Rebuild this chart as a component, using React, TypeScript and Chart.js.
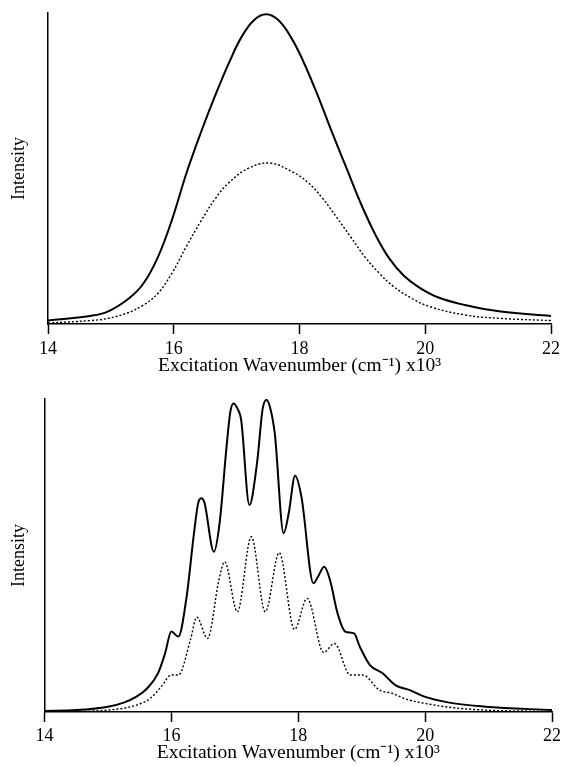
import React, { useEffect, useRef } from 'react';
import { Chart, registerables } from 'chart.js';

Chart.register(...registerables);

// ---- Data (x in 10^3 cm^-1, intensity in arbitrary units, 0-100) ----
const X_TICKS = [14, 16, 18, 20, 22];
const X_TITLE = 'Excitation Wavenumber (cm\u207B\u00B9) x10\u00B3';
const Y_TITLE = 'Intensity';

// Top panel, solid curve
const topSolidX = [14.0, 14.67, 14.95, 15.29, 15.52, 15.75, 15.97, 16.2, 16.43, 16.66, 16.89, 17.07, 17.27, 17.47, 17.67, 17.87, 18.05, 18.28, 18.51, 18.74, 18.97, 19.2, 19.43, 19.66, 19.9, 20.2, 20.63, 21.2, 22.0];
const topSolidY = [1.1, 2.6, 4.0, 8.3, 13.1, 21.6, 33.4, 48.4, 61.5, 73.5, 84.5, 92.0, 97.6, 99.6, 97.6, 92.0, 84.9, 74.0, 62.0, 50.5, 39.0, 29.0, 21.0, 15.5, 11.8, 8.6, 6.1, 4.0, 2.6];

// Top panel, dotted curve
const topDotX = [14.0, 14.67, 14.95, 15.24, 15.52, 15.75, 15.97, 16.2, 16.43, 16.66, 16.88, 17.2, 17.54, 17.88, 18.13, 18.36, 18.59, 18.81, 19.04, 19.27, 19.5, 19.78, 20.07, 20.63, 21.2, 22.0];
const topDotY = [0.3, 1.1, 1.8, 3.4, 6.1, 9.9, 16.3, 24.9, 33.0, 40.3, 45.5, 50.2, 51.7, 49.0, 45.6, 40.6, 34.3, 28.1, 21.6, 16.3, 12.0, 8.3, 5.6, 2.9, 1.8, 1.1];

// Bottom panel, solid curve
const botSolidX = [14.0, 14.5, 15.0, 15.25, 15.45, 15.62, 15.79, 15.9, 16.0, 16.11, 16.24, 16.35, 16.42, 16.47, 16.52, 16.67, 16.76, 16.87, 16.93, 16.98, 17.04, 17.1, 17.23, 17.35, 17.44, 17.5, 17.56, 17.63, 17.77, 17.85, 17.95, 18.05, 18.24, 18.31, 18.41, 18.5, 18.62, 18.74, 18.88, 18.97, 19.13, 19.33, 19.53, 19.76, 19.99, 20.38, 20.95, 22.0];
const botSolidY = [0.3, 0.6, 1.7, 3.0, 4.9, 7.6, 12.4, 18.7, 25.7, 24.1, 36.8, 56.0, 66.5, 68.3, 67.0, 51.2, 60.3, 84.8, 96.0, 98.6, 97.0, 93.3, 66.1, 79.5, 97.0, 99.7, 97.0, 89.0, 57.1, 63.5, 75.5, 68.8, 41.1, 43.2, 46.4, 42.2, 31.5, 25.7, 25.1, 20.9, 15.0, 12.4, 8.6, 7.0, 4.9, 3.0, 1.7, 0.6];

// Bottom panel, dotted curve
const botDotX = [14.0, 14.99, 15.45, 15.67, 15.84, 16.0, 16.11, 16.3, 16.4, 16.57, 16.75, 16.84, 17.04, 17.26, 17.48, 17.7, 17.94, 18.14, 18.4, 18.57, 18.82, 19.02, 19.28, 19.48, 19.7, 19.99, 20.38, 20.95, 22.0];
const botDotY = [0.0, 0.6, 2.2, 4.4, 8.1, 11.8, 11.8, 23.0, 30.3, 23.5, 42.2, 48.0, 32.0, 56.0, 32.0, 50.9, 26.4, 36.3, 19.0, 21.9, 11.8, 11.8, 7.0, 6.0, 4.1, 2.8, 1.5, 0.6, 0.2];

const FONT = "'Liberation Serif', 'Times New Roman', Times, serif";

type Layout = {
  padTop: number;
  padRight: number;
  yWidth: number;
  xHeight: number;
  tickPad: number;
  titlePadBottom: number;
  smooth: 'monotone' | 'default';
};

const toPts = (xs: number[], ys: number[]) => xs.map((x, i) => ({ x, y: ys[i] }));

function buildChart(canvas: HTMLCanvasElement, solidX: number[], solidY: number[], dotX: number[], dotY: number[], L: Layout) {
  const common = {
    borderColor: '#000',
    pointRadius: 0,
    fill: false,
    cubicInterpolationMode: L.smooth,
    tension: 0.4,
  };
  return new Chart(canvas, {
    type: 'line',
    data: {
      datasets: [
        { ...common, data: toPts(solidX, solidY), borderWidth: 2 },
        { ...common, data: toPts(dotX, dotY), borderWidth: 1.4, borderDash: [2, 2] },
      ],
    },
    options: {
      responsive: false,
      animation: false,
      events: [],
      layout: { padding: { top: L.padTop, right: L.padRight, left: 0, bottom: 0 } },
      plugins: { legend: { display: false }, tooltip: { enabled: false }, title: { display: false } },
      scales: {
        x: {
          type: 'linear',
          min: 14,
          max: 22,
          afterBuildTicks: (s: any) => {
            s.ticks = X_TICKS.map((v) => ({ value: v }));
          },
          afterFit: (s: any) => {
            s.height = L.xHeight;
          },
          ticks: {
            color: '#000',
            font: { family: FONT, size: 18 },
            padding: L.tickPad,
            maxRotation: 0,
            autoSkip: false,
          },
          grid: {
            display: true,
            drawOnChartArea: false,
            drawTicks: true,
            tickLength: 10,
            tickWidth: 1.5,
            tickColor: '#000',
          },
          border: { display: true, color: '#000', width: 1.5 },
          title: {
            display: true,
            text: X_TITLE,
            color: '#000',
            font: { family: FONT, size: 19.5 },
            padding: { top: 0, bottom: L.titlePadBottom },
          },
        },
        y: {
          type: 'linear',
          min: 0,
          max: 100,
          afterFit: (s: any) => {
            s.width = L.yWidth;
          },
          ticks: { display: false },
          grid: { display: true, drawOnChartArea: false, drawTicks: false },
          border: { display: true, color: '#000', width: 1.5 },
          title: {
            display: true,
            text: Y_TITLE,
            color: '#000',
            font: { family: FONT, size: 18 },
            padding: { top: 8, bottom: 0 },
          },
        },
      },
    },
  } as any);
}

export default function App() {
  const topRef = useRef<HTMLCanvasElement>(null);
  const botRef = useRef<HTMLCanvasElement>(null);

  useEffect(() => {
    const c1 = buildChart(topRef.current!, topSolidX, topSolidY, topDotX, topDotY, {
      padTop: 13,
      padRight: 10,
      yWidth: 48,
      xHeight: 59,
      tickPad: 4,
      titlePadBottom: 5.3,
      smooth: 'default',
    });
    const c2 = buildChart(botRef.current!, botSolidX, botSolidY, botDotX, botDotY, {
      padTop: 16,
      padRight: 12,
      yWidth: 44.5,
      xHeight: 55,
      tickPad: 3,
      titlePadBottom: 2.3,
      smooth: 'monotone',
    });
    return () => {
      c1.destroy();
      c2.destroy();
    };
  }, []);

  return (
    <div style={{ position: 'absolute', left: 0, top: 0, width: 564, height: 767, background: '#fff' }}>
      <canvas ref={topRef} width={564} height={383} style={{ position: 'absolute', left: 0, top: 0, display: 'block' }} />
      <canvas ref={botRef} width={564} height={384} style={{ position: 'absolute', left: 0, top: 383, display: 'block' }} />
    </div>
  );
}
